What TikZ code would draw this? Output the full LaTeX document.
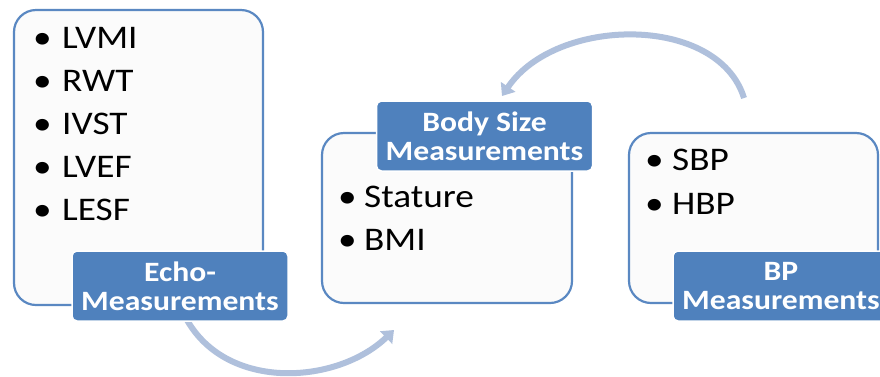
\documentclass[tikz,border=0pt]{standalone}
\usepackage{fontspec}
\setmainfont{Carlito}[FakeStretch=1.13]
\usetikzlibrary{arrows.meta}
\definecolor{boxline}{HTML}{5A88C2}
\definecolor{boxfill}{HTML}{FBFBFB}
\definecolor{labfill}{HTML}{4F81BD}
\definecolor{arrowc}{HTML}{AFC0DC}
\begin{document}
\begin{tikzpicture}[x=1pt,y=-1pt,
  panel/.style={draw=boxline, fill=boxfill, line width=2.2pt, rounded corners=22pt, inner sep=0pt},
  lab/.style={fill=labfill, draw=white, line width=1.5pt, rounded corners=5pt, text=white,
    font=\bfseries\fontsize{28}{29}\selectfont, align=center, inner sep=0pt,
    minimum width=216pt, minimum height=70pt},
  item/.style={anchor=base west, inner sep=0pt, font=\fontsize{33}{38}\selectfont},
  conn/.style={draw=arrowc, line width=6pt, -{Triangle[width=17pt,length=11pt]}}]
\fill[white] (0,0) rectangle (880,376);
\useasboundingbox (0,0) rectangle (880,376);

% connectors (behind)
\coordinate (a1s) at (187,320);
\coordinate (a1e) at (394,330);
\coordinate (a2s) at (744,98);
\coordinate (a2e) at (502,96);
\draw[conn] (a1s) .. controls (228,392) and (338,384) .. (a1e);
\draw[conn] (a2s) .. controls (718,14) and (556,16) .. (a2e);

% panels
\node[panel, minimum width=249pt, minimum height=295pt] (echo) at (138.5,157.5) {};
\node[panel, minimum width=250pt, minimum height=170pt] (body) at (447,218) {};
\node[panel, minimum width=249pt, minimum height=170pt] (bp) at (753.5,218) {};

% items
\node[item] (i1) at (33,48) {\makebox[29pt][l]{•}LVMI};
\node[item] (i2) at (33,91) {\makebox[29pt][l]{•}RWT};
\node[item] (i3) at (33,134) {\makebox[29pt][l]{•}IVST};
\node[item] (i4) at (33,177) {\makebox[29pt][l]{•}LVEF};
\node[item] (i5) at (33,220) {\makebox[29pt][l]{•}LESF};

\node[item] (j1) at (338,207) {\makebox[26pt][l]{•}Stature};
\node[item] (j2) at (338,250) {\makebox[26pt][l]{•}BMI};

\node[item] (k1) at (645,170) {\makebox[27pt][l]{•}SBP};
\node[item] (k2) at (645,214) {\makebox[27pt][l]{•}HBP};

% labels
\node[lab] (echolab) at (180,286) {Echo-\\Measurements};
\node[lab] (bodylab) at (484.5,136) {Body Size\\Measurements};
\node[lab] (bplab) at (781,286) {BP\\Measurements};
\end{tikzpicture}
\end{document}
